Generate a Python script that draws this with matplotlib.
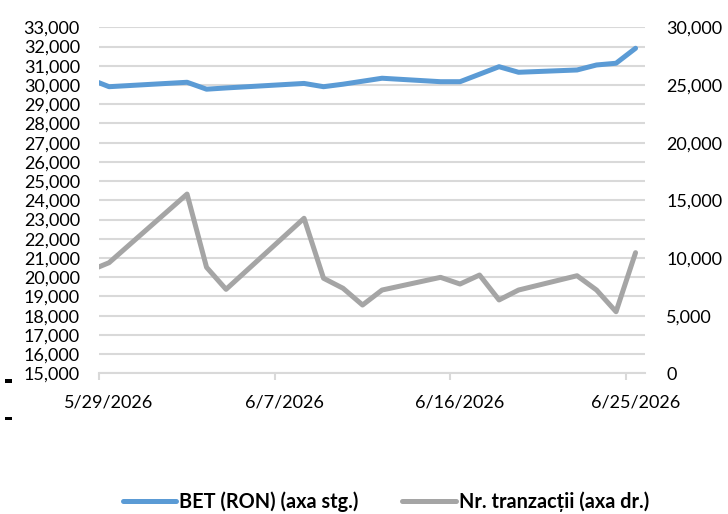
import matplotlib
matplotlib.use("Agg")
import matplotlib.pyplot as plt
import matplotlib.ticker as mticker
from matplotlib.patches import Rectangle
import pandas as pd

plt.rcParams['font.family'] = ['Lato', 'DejaVu Sans']

# zile de tranzactionare (5/28 e in afara axei, linia e taiata la margine)
dates = pd.to_datetime([
    "2026-05-28", "2026-05-29", "2026-06-02", "2026-06-03", "2026-06-04",
    "2026-06-08", "2026-06-09", "2026-06-10", "2026-06-11", "2026-06-12",
    "2026-06-15", "2026-06-16", "2026-06-17", "2026-06-18", "2026-06-19",
    "2026-06-22", "2026-06-23", "2026-06-24", "2026-06-25",
])
bet = [30310, 29910, 30140, 29780, 29845, 30080, 29910, 30040, 30195, 30350,
       30170, 30170, 30560, 30950, 30660, 30780, 31040, 31130, 31910]
tranzactii = [8890, 9590, 15540, 9190, 7280, 13440, 8240, 7370, 5920, 7220,
              8320, 7740, 8520, 6360, 7220, 8460, 7220, 5340, 10460]
tick_dates = pd.to_datetime(["2026-05-29", "2026-06-07", "2026-06-16", "2026-06-25"])

blue = "#5B9BD5"
grey = "#A5A5A5"
grid = "#D9D9D9"
half_day = pd.Timedelta(hours=12)

fig = plt.figure(figsize=(7.28, 5.14), dpi=100)
ax = fig.add_axes([99.3/728, 1-373.3/514, (645.3-99.3)/728, (373.3-27.3)/514])
ax2 = ax.twinx()

# ca in Excel: punctele (si etichetele) sunt la mijlocul zilei
x = dates + half_day
ax.plot(x, bet, color=blue, lw=3.6, solid_joinstyle="round", solid_capstyle="round",
        label="BET (RON) (axa stg.)")
ax2.plot(x, tranzactii, color=grey, lw=3.6, solid_joinstyle="round", solid_capstyle="round",
         label="Nr. tranzacții (axa dr.)")

ax.set_xlim(pd.Timestamp("2026-05-29"), pd.Timestamp("2026-06-26"))
ax.set_ylim(15000, 33000)
ax2.set_ylim(0, 30000)
ax.yaxis.set_major_locator(mticker.MultipleLocator(1000))
ax2.yaxis.set_major_locator(mticker.MultipleLocator(5000))
fmt = mticker.FuncFormatter(lambda v, p: f"{int(v):,}")
ax.yaxis.set_major_formatter(fmt)
ax2.yaxis.set_major_formatter(fmt)

# liniute la inceputul zilei, etichete la mijloc
ax.set_xticks(tick_dates + half_day)
ax.set_xticklabels([f"{d.month}/{d.day}/{d.year}" for d in tick_dates])
ax.set_xticks(tick_dates, minor=True)

ax.grid(axis="y", color=grid, lw=1.5)
ax.set_axisbelow(True)
for a in (ax, ax2):
    for s in ("left", "right", "top"):
        a.spines[s].set_visible(False)
ax.spines["bottom"].set_color(grid)
ax.spines["bottom"].set_linewidth(1.5)
ax2.spines["bottom"].set_visible(False)

ax.tick_params(axis="y", length=0, pad=14, labelsize=13)
ax2.tick_params(axis="y", length=0, pad=15, labelsize=13)
ax.tick_params(axis="x", which="major", length=0, pad=15, labelsize=13)
ax.tick_params(axis="x", which="minor", length=5, width=1.5, color=grid)

# semnele mici din stanga jos
fig.add_artist(Rectangle((5/728, 1-383.3/514), 6.5/728, 4/514, color="black", lw=0))
fig.add_artist(Rectangle((5/728, 1-420/514), 6.5/728, 3.3/514, color="black", lw=0))

h1, l1 = ax.get_legend_handles_labels()
h2, l2 = ax2.get_legend_handles_labels()
leg = fig.legend(h1 + h2, l1 + l2, loc="center", bbox_to_anchor=(386/728, 1-502/514),
                 ncol=2, frameon=False, handlelength=2.7, handletextpad=0.15,
                 columnspacing=2.2, borderpad=0.2, prop={"size": 14.3, "weight": "bold"})

fig.savefig("out.png", dpi=100)
